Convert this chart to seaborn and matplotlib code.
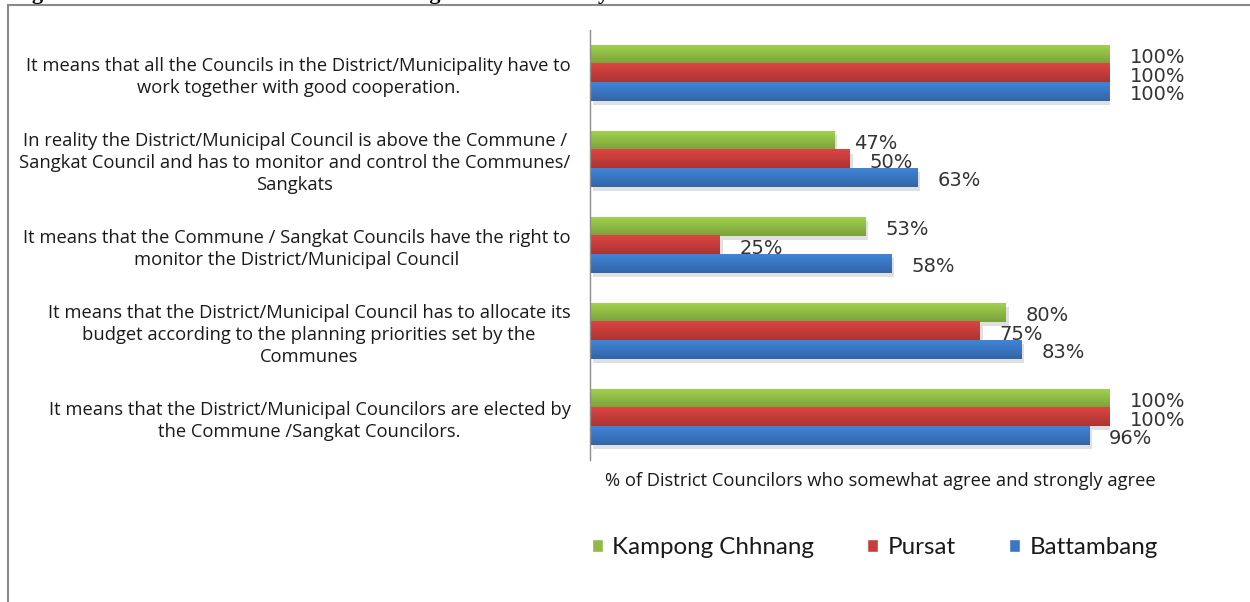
import numpy as np
import pandas as pd
import matplotlib
matplotlib.use("Agg")
import matplotlib.pyplot as plt
import matplotlib.patheffects as pe
from matplotlib.colors import to_rgb
from matplotlib.lines import Line2D
from matplotlib.patches import Patch
import seaborn as sns

# ---- data -------------------------------------------------------------
statements = [
    "It means that all the Councils in the District/Municipality have to\nwork together with good cooperation.",
    "In reality the District/Municipal Council is above the Commune /\nSangkat Council and has to monitor and control the Communes/\nSangkats",
    "It means that the Commune / Sangkat Councils have the right to\nmonitor the District/Municipal Council",
    "It means that the District/Municipal Council has to allocate its\nbudget according to the planning priorities set by the\nCommunes",
    "It means that the District/Municipal Councilors are elected by\nthe Commune /Sangkat Councilors.",
]
provinces = ["Kampong Chhnang", "Pursat", "Battambang"]
kampong_chhnang = [100, 47, 53, 80, 100]
pursat = [100, 50, 25, 75, 100]
battambang = [100, 63, 58, 83, 96]
colors = ["#8fbb45", "#c63d3b", "#3a76c2"]
x_label = "% of District Councilors who somewhat agree and strongly agree"
title = ("Figure 8: District Councilors' Understanding of Accountability of "
         "District Council to Commune Councils")

df = pd.DataFrame({
    "statement": statements * 3,
    "province": sum([[p] * len(statements) for p in provinces], []),
    "pct": kampong_chhnang + pursat + battambang,
})

# ---- style ------------------------------------------------------------
sns.set_style("white")
plt.rcParams["font.family"] = ["Lato", "DejaVu Sans"]

W, H = 1250, 602
fig = plt.figure(figsize=(W / 100, H / 100), dpi=100)
ax = fig.add_axes([590 / W, (H - 460) / H, 520 / W, 430 / H])

sns.barplot(data=df, x="pct", y="statement", hue="province",
            order=statements, hue_order=provinces, palette=colors,
            saturation=1, width=0.65, orient="h", legend=False, ax=ax,
            linewidth=0)

ax.set_xlim(0, 100)
ax.set_ylim(len(statements) - 0.5, -0.5)

# soft vertical shading and drop shadow on each bar
def shade(c, f):
    r = np.array(to_rgb(c))
    return np.clip(r * f, 0, 1)

for cont, col in zip(ax.containers, colors):
    for bar in cont:
        x0, y0 = bar.get_x(), bar.get_y()
        w, h = bar.get_width(), bar.get_height()
        top = shade(col, 1.12)
        bot = shade(col, 0.86)
        t = np.linspace(0, 1, 32)[:, None, None]
        grad = top[None, None, :] * (1 - t) + bot[None, None, :] * t
        bar.set_path_effects([
            pe.SimplePatchShadow(offset=(2, -3), shadow_rgbFace="#999999", alpha=0.3),
            pe.Normal(),
        ])
        ax.imshow(grad, extent=(x0, x0 + w, y0 + h, y0), origin="upper",
                  aspect="auto", zorder=bar.get_zorder() + 0.1,
                  interpolation="bilinear")
        ax.text(w + 3.8, y0 + h / 2 + 0.035, f"{w:.0f}%", ha="left", va="center",
                fontsize=14, family="DejaVu Sans", color="#333333",
                clip_on=False, zorder=5)

ax.set_xlim(0, 100)
ax.set_ylim(len(statements) - 0.5, -0.5)

# axes cosmetics
for s in ("top", "right", "bottom"):
    ax.spines[s].set_visible(False)
ax.spines["left"].set_color("#8c8c8c")
ax.spines["left"].set_linewidth(1.0)
ax.set_xticks([])
ax.set_xlabel("")
ax.set_ylabel("")
ax.set_yticks(range(len(statements)))
ax.set_yticklabels(statements, fontsize=13.2, family="Open Sans", color="#1a1a1a",
                   multialignment="center", linespacing=1.3)
ax.tick_params(axis="y", which="major", length=0, pad=14)
ax.set_yticks(np.arange(0.5, len(statements), 1), minor=True)
ax.tick_params(axis="y", which="minor", length=6, color="#8c8c8c",
               width=1.0, direction="out")

fig.text(880 / W, 1 - 481 / H, x_label, ha="center", va="center",
         fontsize=13.2, family="Open Sans", color="#1a1a1a")

handles = [Patch(facecolor=c, label=p) for p, c in zip(provinces, colors)]
fig.legend(handles=handles, loc="center", bbox_to_anchor=(875 / W, 1 - 548 / H),
           ncol=3, frameon=False, fontsize=17.4, handlelength=0.45,
           handleheight=0.45, handletextpad=0.4, columnspacing=2.2,
           labelcolor="#1a1a1a")

# frame and page title above it
fig.add_artist(Line2D([8 / W, 1], [1 - 5 / H] * 2, transform=fig.transFigure,
                      color="#8a8a8a", lw=1.5))
fig.add_artist(Line2D([8 / W] * 2, [0, 1 - 5 / H], transform=fig.transFigure,
                      color="#8a8a8a", lw=1.5))
fig.text(12 / W, 1 + 0.5 / H, title, ha="left", va="baseline", fontsize=16,
         family="Liberation Serif", weight="bold", color="black")

fig.savefig("out.png", dpi=100, facecolor="white")
